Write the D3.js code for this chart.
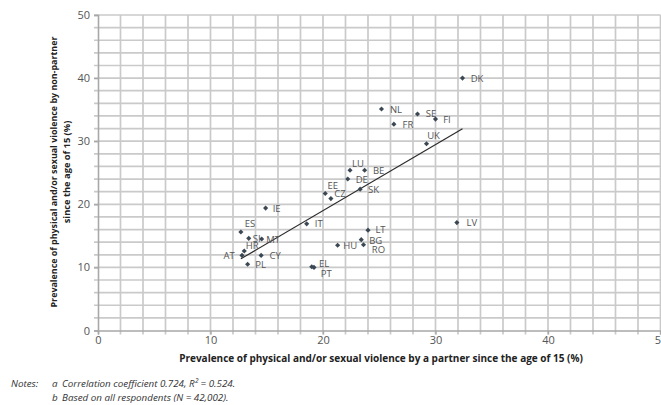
<!DOCTYPE html>
<html>
<head>
<meta charset="utf-8">
<script src="https://cdn.jsdelivr.net/npm/d3@7"></script>
</head>
<body style="margin:0">
<svg id="chart" width="661" height="405" style="display:block;background:#fff"></svg>
<script>
// Country codes and prevalence (%) since the age of 15
const countries = ["DK","NL","SE","FI","FR","UK","LU","BE","DE","SK","EE","CZ","IE","IT",
                   "ES","SI","MT","HR","AT","CY","PL","EL","PT","LT","BG","RO","HU","LV"];
// violence by a partner (x)
const partner = [32.4,25.2,28.4,30.0,26.3,29.2,22.4,23.7,22.2,23.3,20.2,20.7,14.9,18.55,
                 12.7,13.4,14.55,13.0,12.8,14.5,13.3,19.2,19.0,24.0,23.4,23.6,21.3,31.9];
// violence by a non-partner (y)
const nonPartner = [40.0,35.1,34.3,33.5,32.7,29.6,25.4,25.4,24.0,22.4,21.7,20.9,19.4,16.9,
                    15.6,14.6,14.5,12.6,11.9,11.9,10.5,10.0,10.1,15.9,14.4,13.6,13.5,17.1];
const xTicks = [0, 10, 20, 30, 40, 50];
const yTicks = [0, 10, 20, 30, 40, 50];
const notes = [
  ["Notes:", "a", "Correlation coefficient 0.724, R\u00B2 = 0.524."],
  ["", "b", "Based on all respondents (N = 42,002)."]
];

// label placement (centre offset from the marker, px)
const labelOffset = {
  DK:[14.5,0], NL:[14.5,0], SE:[13.5,-1], FI:[11.5,0], FR:[14,0], UK:[7,-8],
  LU:[8,-7], BE:[14,0], DE:[14,0], SK:[13.5,0], EE:[7.5,-8], CZ:[9,-5.5],
  IE:[11,0], IT:[12,0], ES:[9,-9], SI:[8,0], MT:[11.5,0], HR:[8,-5],
  AT:[-13,0], CY:[14,0], PL:[13,0], EL:[10,-3.5], PT:[14.5,6.5], LT:[12.5,-0.5],
  BG:[14.5,0.5], RO:[15,5], HU:[12.5,0], LV:[15,0]
};

const FONT = "'Open Sans', 'Noto Sans', sans-serif";
const svg = d3.select("#chart");
const plotLeft = 98, plotRight = 660.5, plotTop = 15, plotBottom = 330.5;

const x = d3.scaleLinear().domain([0, 50]).range([plotLeft, plotRight]);
const y = d3.scaleLinear().domain([0, 50]).range([plotBottom, plotTop]);

const points = countries.map((c, i) => ({ code: c, px: partner[i], py: nonPartner[i] }));

// grid every 2 percentage points, as one path
const gridVals = d3.range(2, 51, 2);
const gp = d3.path();
gridVals.forEach(v => {
  gp.moveTo(x(v), plotTop); gp.lineTo(x(v), plotBottom + 4);
  gp.moveTo(plotLeft - 4, y(v)); gp.lineTo(plotRight, y(v));
});
svg.append("path")
  .attr("d", gp.toString())
  .attr("fill", "none")
  .attr("stroke", "#cacaca")
  .attr("stroke-width", 1.7);

// axes
const xAxis = svg.append("g").attr("transform", `translate(0,${plotBottom})`)
  .call(d3.axisBottom(x).tickValues(xTicks).tickSize(4).tickPadding(2));
const yAxis = svg.append("g").attr("transform", `translate(${plotLeft},0)`)
  .call(d3.axisLeft(y).tickValues(yTicks).tickSize(4).tickPadding(4));
[xAxis, yAxis].forEach(a => {
  a.select(".domain").attr("stroke", "#a8a8a8").attr("stroke-width", 1.6);
  a.selectAll(".tick line").attr("stroke", "#a8a8a8").attr("stroke-width", 1.4);
  a.selectAll(".tick text").attr("fill", "#555").attr("font-size", 11)
    .attr("font-family", FONT);
});

// least-squares fit line across the observed range
const mx = d3.mean(partner), my = d3.mean(nonPartner);
const sxy = d3.sum(partner, (v, i) => (v - mx) * (nonPartner[i] - my));
const sxx = d3.sum(partner, v => (v - mx) * (v - mx));
const slope = sxy / sxx, intercept = my - slope * mx;
const [xmin, xmax] = d3.extent(partner);
svg.append("line")
  .attr("x1", x(xmin)).attr("y1", y(intercept + slope * xmin))
  .attr("x2", x(xmax)).attr("y2", y(intercept + slope * xmax))
  .attr("stroke", "#2b2b2b").attr("stroke-width", 1.2);

// markers: small rotated squares
svg.append("g").selectAll("path").data(points).join("path")
  .attr("transform", d => `translate(${x(d.px)},${y(d.py)}) rotate(45)`)
  .attr("d", d3.symbol(d3.symbolSquare, 13))
  .attr("fill", "#3b4853");

// country labels
svg.append("g").selectAll("text").data(points).join("text")
  .attr("x", d => x(d.px) + labelOffset[d.code][0])
  .attr("y", d => y(d.py) + labelOffset[d.code][1])
  .attr("text-anchor", "middle").attr("dominant-baseline", "central")
  .attr("font-family", FONT).attr("font-size", 9.5).attr("fill", "#555")
  .text(d => d.code);

// axis titles
svg.append("text")
  .attr("x", 381).attr("y", 362)
  .attr("text-anchor", "middle").attr("font-family", FONT)
  .attr("font-size", 10).attr("font-weight", "bold").attr("fill", "#222")
  .text("Prevalence of physical and/or sexual violence by a partner since the age of 15 (%)");
const yt = svg.append("text")
  .attr("transform", "translate(57,172) rotate(-90)")
  .attr("text-anchor", "middle").attr("font-family", FONT)
  .attr("font-size", 9.3).attr("font-weight", "bold").attr("fill", "#222");
yt.append("tspan").attr("x", 0).attr("dy", 0)
  .attr("textLength", 271).attr("lengthAdjust", "spacingAndGlyphs")
  .text("Prevalence of physical and/or sexual violence by non-partner");
yt.append("tspan").attr("x", 0).attr("dy", 13).text("since the age of 15 (%)");

// notes
const nt = svg.append("g").attr("font-family", FONT).attr("font-size", 9.8)
  .attr("font-style", "italic").attr("fill", "#333");
notes.forEach((n, i) => {
  const yy = 387 + i * 14;
  nt.append("text").attr("x", 11).attr("y", yy).text(n[0]);
  nt.append("text").attr("x", 52).attr("y", yy).text(n[1]);
  nt.append("text").attr("x", 62).attr("y", yy).text(n[2]);
});
</script>
</body>
</html>
